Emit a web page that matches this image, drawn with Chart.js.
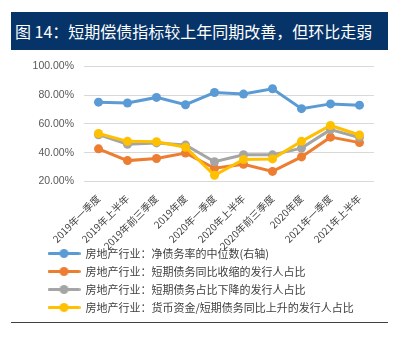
<!DOCTYPE html>
<html>
<head>
<meta charset="utf-8">
<script src="https://cdn.jsdelivr.net/npm/chart.js@4.4.1/dist/chart.umd.min.js"></script>
<style>
  body { margin: 0; background: #fff; width: 411px; height: 341px; position: relative; overflow: hidden; font-family: "Noto Sans CJK SC", sans-serif; }
  #title { position: absolute; left: 11px; top: 12px; width: 377px; height: 38px; background: #063468; color: #fff; font-size: 16px; line-height: 38px; padding-left: 4px; box-sizing: border-box; white-space: nowrap; }
  #box { position: absolute; left: 0; top: 50px; width: 411px; height: 295px; }
  #rule { position: absolute; left: 11px; top: 322px; width: 377px; height: 1px; background: #404040; }
</style>
</head>
<body>
<div id="title">图 14：短期偿债指标较上年同期改善，但环比走弱</div>
<div id="box"><canvas id="chart"></canvas></div>
<div id="rule"></div>
<script>
const categories = ['2019年一季度', '2019年上半年', '2019年前三季度', '2019年度', '2020年一季度',
  '2020年上半年', '2020年前三季度', '2020年度', '2021年一季度', '2021年上半年']

const netDebtMedian = [75.1, 74.5, 78.4, 73.3, 81.8, 80.7, 84.4, 70.6, 73.9, 73.0]
const shortDebtShrink = [42.7, 34.5, 36.0, 39.8, 29.2, 32.0, 27.0, 37.1, 50.8, 47.0]
const shortDebtShareDown = [52.5, 45.8, 46.8, 45.3, 33.7, 38.6, 38.5, 43.2, 56.0, 50.6]
const cashRatioUp = [53.3, 47.9, 47.6, 43.8, 24.3, 35.3, 35.7, 47.9, 58.9, 52.3]

const seriesNames = [
  '房地产行业：净债务率的中位数(右轴)',
  '房地产行业：短期债务同比收缩的发行人占比',
  '房地产行业：短期债务占比下降的发行人占比',
  '房地产行业：货币资金/短期债务同比上升的发行人占比'
]
const colors = ['#5B9BD5', '#ED7D31', '#A5A5A5', '#FFC000']

// legend marker: a short line with a dot in the middle
function makeMarker(color) {
  const c = document.createElement('canvas')
  c.width = 33
  c.height = 11
  const g = c.getContext('2d')
  g.strokeStyle = color
  g.lineWidth = 3
  g.lineCap = 'round'
  g.beginPath()
  g.moveTo(1.5, 5.5)
  g.lineTo(31.5, 5.5)
  g.stroke()
  g.fillStyle = color
  g.beginPath()
  g.arc(16.5, 5.5, 4.5, 0, Math.PI * 2)
  g.fill()
  return c
}
const markers = colors.map(makeMarker)

function series(i, data, axis, order) {
  return {
    label: seriesNames[i],
    data: data,
    yAxisID: axis,
    order: order,
    borderColor: colors[i],
    backgroundColor: colors[i],
    borderWidth: 3,
    pointRadius: 4.5,
    pointHoverRadius: 4.5,
    pointBorderWidth: 0,
    tension: 0
  }
}

// the x labels need a tall box (or they get cut), the legend then sits
// partly beside them like in the original, so move it right and up
const legendShift = {
  id: 'legendShift',
  afterLayout(chart) {
    const lg = chart.legend
    lg.left += 11
    lg.right += 11
    lg.top -= 22
    lg.bottom -= 22
  }
}

const ctx = document.getElementById('chart')
window.myChart = new Chart(ctx, {
  type: 'line',
  data: {
    labels: categories,
    datasets: [
      series(0, netDebtMedian, 'y1', 3),
      series(1, shortDebtShrink, 'y', 2),
      series(2, shortDebtShareDown, 'y', 1),
      series(3, cashRatioUp, 'y', 0)
    ]
  },
  options: {
    responsive: true,
    maintainAspectRatio: false,
    animation: false,
    layout: { padding: { left: 30, right: 37, top: 10, bottom: 0 } },
    scales: {
      x: {
        offset: true,
        grid: { display: false },
        border: { display: false },
        ticks: {
          autoSkip: false, maxRotation: 45, minRotation: 45, padding: 3,
          color: '#404040', font: { family: '"Noto Sans CJK SC", sans-serif', size: 10 }
        },
        afterFit(s) { s.height = 81.5 }
      },
      y: {
        min: 20, max: 100,
        grid: { color: '#D9D9D9', drawTicks: false },
        border: { display: false },
        ticks: {
          stepSize: 20, padding: 10, color: '#595959',
          font: { family: '"Liberation Sans", sans-serif', size: 10.5 },
          callback: v => v.toFixed(2) + '%'
        },
        afterFit(s) { s.width = 54 }
      },
      y1: { display: false, min: 20, max: 100 }
    },
    plugins: {
      tooltip: { enabled: false },
      legend: {
        position: 'bottom',
        align: 'start',
        labels: {
          usePointStyle: true,
          pointStyleWidth: 32,
          padding: 7,
          color: '#404040',
          font: { family: '"Noto Sans CJK SC", sans-serif', size: 11 },
          sort: (a, b) => a.datasetIndex - b.datasetIndex,
          generateLabels(chart) {
            const items = Chart.defaults.plugins.legend.labels.generateLabels(chart)
            items.forEach(it => { it.pointStyle = markers[it.datasetIndex] })
            return items
          }
        }
      }
    }
  },
  plugins: [legendShift]
})
</script>
</body>
</html>
